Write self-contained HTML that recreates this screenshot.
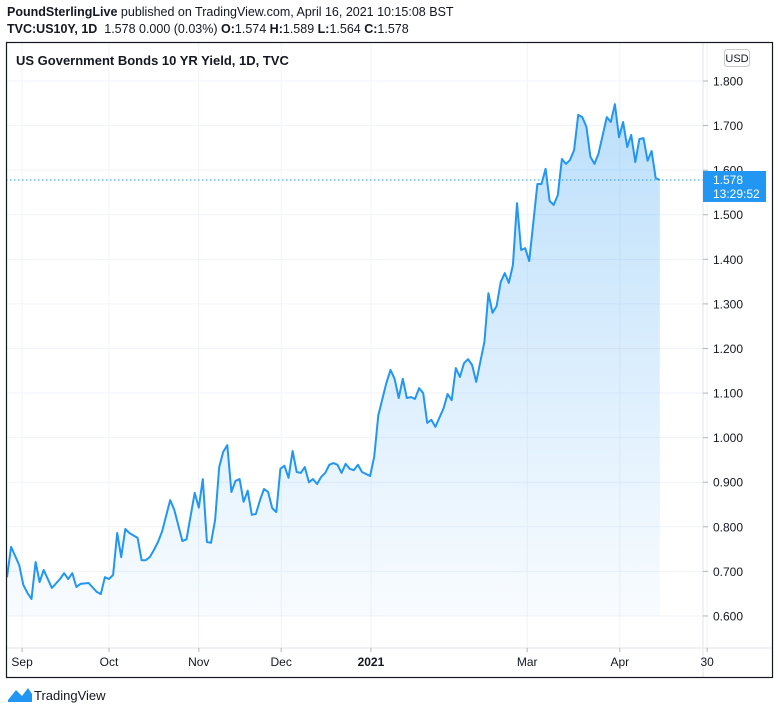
<!DOCTYPE html>
<html><head><meta charset="utf-8">
<style>
body{margin:0;width:778px;height:713px;background:#fff;font-family:"Liberation Sans",sans-serif;overflow:hidden;position:relative}
.h{position:absolute;left:7px;font-size:12.5px;color:#131722;white-space:nowrap}
</style></head><body>
<div class="h" style="top:5px"><b>PoundSterlingLive</b> published on TradingView.com, April 16, 2021 10:15:08 BST</div>
<div class="h" style="top:22px"><b>TVC:US10Y, 1D</b>&nbsp; 1.578 0.000 (0.03%) <b>O:</b>1.574 <b>H:</b>1.589 <b>L:</b>1.564 <b>C:</b>1.578</div>
<svg id="chart" width="778" height="713" style="position:absolute;left:0;top:0">
<defs><linearGradient id="g" x1="0" y1="0" x2="0" y2="1">
<stop offset="0" stop-color="#2196f3" stop-opacity="0.3"/><stop offset="1" stop-color="#2196f3" stop-opacity="0.03"/></linearGradient></defs>
<g id="grid"></g>
<path id="area" fill="url(#g)"/>
<path id="line" fill="none" stroke="#2196f3" stroke-width="2" stroke-linejoin="round"/>
<line id="lastline" x1="6" x2="703" stroke="#2196f3" stroke-dasharray="1.5 2.5"/>
<line x1="703" y1="42" x2="703" y2="678" stroke="#e0e3eb"/>
<line x1="6" y1="648" x2="773" y2="648" stroke="#e0e3eb"/>
<g id="yax"></g><g id="xax"></g>
<rect x="6.5" y="42.5" width="766" height="635" fill="none" stroke="#131722" stroke-width="1.2"/>
<text x="16" y="65" font-size="13" font-weight="bold" fill="#131722">US Government Bonds 10 YR Yield, 1D, TVC</text>
<rect x="724.5" y="49.5" width="25" height="17" rx="3" fill="#fff" stroke="#c8c8c8"/>
<text x="737" y="62" font-size="11" text-anchor="middle" fill="#131722">USD</text>
<g><rect id="plbox" x="703" width="63" height="31" fill="#2196f3"/>
<text id="pl1" x="713" font-size="12" fill="#fff">1.578</text><text id="pl2" x="713" font-size="12" fill="#fff">13:29:52</text></g>
<g><path d="M8 700 L16 690 L22 696 L28 688 L32 694 L32 702 L8 702Z" fill="#2196f3"/>
<text x="34" y="700" font-size="13" fill="#131722">TradingView</text></g>
</svg>
<script>
const days=[0,1,3,4,5,6,7,8,9,11,13,14,15,16,17,18,20,22,23,24,25,26,27,28,29,30,32,33,34,35,36,37,38,40,41,43,44,46,47,48,49,50,51,52,53,54,55,56,57,58,59,60,61,62,63,64,65,66,67,68,69,70,71,72,73,74,75,76,77,78,79,80,81,82,83,84,85,86,87,89,90,91,93,94,95,96,97,98,99,100,101,102,103,104,105,107,108,109,110,111,112,113,114,115,117,118,119,120,121,122,123,124,125,126,127,128,130,131,132,133,134,135,136,137,138,139,140,141,142,143,144,145,147,148,149,150,151,152,153,154,155,156,157,158,159,160];
const yields=[0.687,0.755,0.714,0.670,0.652,0.638,0.721,0.676,0.703,0.663,0.683,0.696,0.683,0.696,0.665,0.672,0.674,0.654,0.649,0.687,0.683,0.692,0.786,0.732,0.795,0.786,0.775,0.725,0.725,0.732,0.748,0.766,0.789,0.860,0.838,0.768,0.772,0.876,0.843,0.907,0.766,0.764,0.815,0.934,0.968,0.983,0.878,0.903,0.907,0.856,0.881,0.827,0.829,0.860,0.885,0.878,0.842,0.833,0.930,0.937,0.910,0.970,0.923,0.921,0.934,0.900,0.907,0.896,0.912,0.921,0.939,0.943,0.939,0.921,0.941,0.930,0.927,0.939,0.923,0.914,0.957,1.050,1.123,1.152,1.132,1.089,1.132,1.089,1.091,1.087,1.111,1.100,1.033,1.040,1.024,1.066,1.098,1.084,1.156,1.136,1.167,1.176,1.163,1.125,1.215,1.324,1.280,1.295,1.349,1.369,1.347,1.387,1.526,1.421,1.425,1.396,1.569,1.569,1.603,1.531,1.522,1.544,1.625,1.614,1.623,1.645,1.724,1.719,1.697,1.630,1.614,1.638,1.719,1.708,1.748,1.674,1.708,1.652,1.679,1.618,1.670,1.672,1.621,1.643,1.582,1.578];
const yTicks=[0.6,0.7,0.8,0.9,1.0,1.1,1.2,1.3,1.4,1.5,1.6,1.7,1.8];
const xTickLabels=["Sep","Oct","Nov","Dec","2021","Mar","Apr","30"];
const xTickDays=[3.7,25,47,67.2,89.2,127.5,150.2,171.6];
const lastPrice=1.578;
const X=d=>7+d*4.08;
const Y=v=>81+(1.8-v)*445.8;
const NS="http://www.w3.org/2000/svg";
const grid=document.getElementById('grid'),yax=document.getElementById('yax'),xax=document.getElementById('xax');
function mk(tag,attrs,parent){const e=document.createElementNS(NS,tag);for(const k in attrs)e.setAttribute(k,attrs[k]);parent.appendChild(e);return e;}
yTicks.forEach(v=>{
  const y=Y(v);
  const gl=mk('line',{x1:6,x2:703,y1:y,y2:y,stroke:'#f0f3fa'},grid);
  
  
  mk('line',{x1:703,x2:708,y1:y,y2:y,stroke:'#b2b5be'},yax);
  const t=mk('text',{x:713,y:y+4.5,'font-size':12,fill:'#131722'},yax);
  t.textContent=v.toFixed(3);
  
  
});
xTickDays.forEach((d,i)=>{
  const x=X(d);
  const gl=mk('line',{x1:x,x2:x,y1:43,y2:648,stroke:'#f0f3fa'},grid);
  
  
  mk('line',{x1:x,x2:x,y1:648,y2:652,stroke:'#b2b5be'},xax);
  const t=mk('text',{x:x,y:666,'font-size':12,'text-anchor':'middle',fill:'#131722'},xax);
  if(xTickLabels[i]==='2021')t.setAttribute('font-weight','bold');
  t.textContent=xTickLabels[i];
  
  
});
let d='';
days.forEach((dy,i)=>{d+=(i?'L':'M')+X(dy).toFixed(1)+' '+Y(yields[i]).toFixed(1);});
document.getElementById('line').setAttribute('d',d);
const last=days[days.length-1];
document.getElementById('area').setAttribute('d',d+'L'+X(last)+' 616L'+X(days[0])+' 616Z');
const ly=Y(lastPrice);
const ll=document.getElementById('lastline');ll.setAttribute('y1',ly);ll.setAttribute('y2',ly);
document.getElementById('plbox').setAttribute('y',ly-9);
document.getElementById('pl1').setAttribute('y',ly+4);
document.getElementById('pl2').setAttribute('y',ly+18);
</script>
</body></html>
